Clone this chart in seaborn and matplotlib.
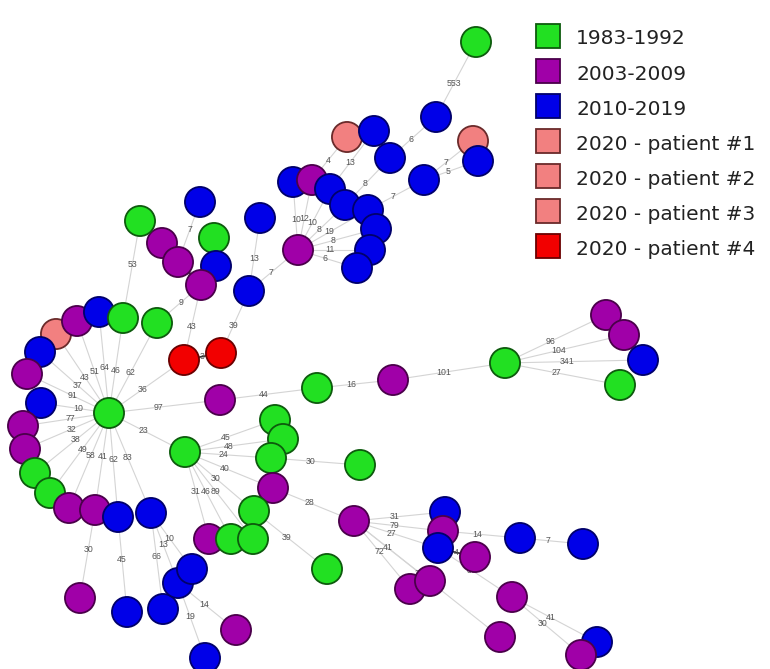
import matplotlib
matplotlib.use("Agg")
import matplotlib.pyplot as plt
import seaborn as sns
import pandas as pd
from matplotlib.lines import Line2D

# ---- data: node layout (minimum spanning tree), groups, edges ----
legend_labels = ["1983-1992", "2003-2009", "2010-2019", "2020 - patient #1",
                 "2020 - patient #2", "2020 - patient #3", "2020 - patient #4"]
G, PU, B, P1, P2, P3, R = legend_labels

node_x = [476, 436, 347, 374, 473, 478, 390, 424, 293, 312, 330, 345, 368, 376, 370, 357,
          298, 260, 249, 200, 214, 162, 178, 216, 201, 140, 157, 184, 221, 109,
          56, 77, 99, 123, 40, 27, 41, 220, 23, 25, 35, 50, 69, 95, 118, 151,
          185, 317, 393, 505, 606, 624, 643, 620, 275, 283, 271, 360, 273, 254,
          354, 209, 231, 253, 327, 445, 443, 438, 475, 520, 583, 410, 430, 512,
          500, 597, 581, 80, 127, 163, 178, 192, 236, 205]
node_y = [42, 117, 137, 131, 141, 161, 158, 180, 182, 180, 189, 205, 210, 229, 250, 268,
          250, 218, 291, 202, 238, 243, 262, 266, 285, 221, 323, 360, 353, 413,
          334, 321, 312, 318, 352, 374, 403, 400, 426, 449, 473, 493, 508, 510, 517, 513,
          452, 388, 380, 363, 315, 335, 360, 385, 420, 439, 458, 465, 488, 511,
          521, 539, 539, 539, 569, 512, 531, 548, 557, 538, 544, 589, 581, 597,
          637, 642, 655, 598, 612, 609, 583, 569, 630, 658]
node_group = [G, B, P1, B, P2, B, B, B, B, PU, B, B, B, B, B, B,
              PU, B, B, B, G, PU, PU, B, PU, G, G, R, R, G,
              P3, PU, B, G, B, PU, B, PU, PU, PU, G, G, PU, PU, B, B,
              G, G, PU, G, PU, PU, B, G, G, G, G, G, PU, G,
              PU, PU, G, G, G, B, PU, B, PU, B, B, PU, PU, PU,
              PU, B, PU, PU, B, B, B, B, PU, B]

edge_src = [1, 6, 11, 12, 7, 7, 9, 10,
            16, 16, 16, 16, 16, 16, 16, 16,
            18, 18, 28, 27, 27,
            24, 24, 19, 24, 24, 24, 25,
            29, 29, 29, 29, 29, 29, 29, 29, 29, 29, 29,
            29, 29, 29, 29, 29, 29, 29, 29,
            43, 44, 45, 45, 45, 80, 80,
            46, 46, 46, 46, 46, 46, 46, 46, 56, 58, 59,
            37, 47, 48, 49, 49, 49, 49,
            60, 60, 60, 60, 60, 60, 67, 66, 69, 67, 73, 73]
edge_dst = [0, 1, 6, 7, 5, 4, 2, 3,
            8, 9, 10, 11, 12, 13, 14, 15,
            16, 17, 18, 28, 24,
            21, 22, 22, 20, 23, 26, 33,
            36, 35, 34, 30, 31, 32, 33, 26, 27, 37, 46,
            38, 39, 40, 41, 42, 43, 44, 45,
            77, 78, 79, 80, 81, 82, 83,
            54, 55, 56, 58, 59, 61, 62, 63, 57, 60, 64,
            47, 48, 49, 50, 51, 52, 53,
            65, 66, 67, 71, 72, 74, 68, 69, 70, 73, 76, 75]
edge_label = ["553", "6", "8", "7", "5", "7", "4", "13",
              "10", "12", "10", "8", "19", "8", "11", "6",
              "7", "13", "39", "3", "43",
              "18", "8", "7", "61", "", "9", "53",
              "10", "91", "37", "43", "51", "64", "46", "62", "36", "97", "23",
              "77", "32", "38", "49", "58", "41", "62", "83",
              "30", "45", "66", "13", "10", "14", "19",
              "45", "48", "24", "40", "30", "31", "46", "89", "30", "28", "39",
              "44", "16", "101", "96", "104", "341", "27",
              "31", "79", "27", "72", "41", "33", "4", "14", "7", "37", "30", "41"]

palette = {G: "#22e022", PU: "#a000a8", B: "#0000e8",
           P1: "#f28080", P2: "#f28080", P3: "#f28080", R: "#f20000"}
outline = {G: "#0d5a0d", PU: "#4a004a", B: "#00006a",
           P1: "#6a2a2a", P2: "#6a2a2a", P3: "#6a2a2a", R: "#6a0000"}

nodes = pd.DataFrame({"x": node_x, "y": node_y, "group": node_group})

sns.set_theme(style="white")
plt.rcParams["font.family"] = ["DejaVu Sans"]

fig = plt.figure(figsize=(7.7, 6.69), dpi=100)
ax = fig.add_axes([0, 0, 1, 1])

# edges and their weights
for s, d, lab in zip(edge_src, edge_dst, edge_label):
    x0, y0, x1, y1 = node_x[s], node_y[s], node_x[d], node_y[d]
    length = ((x1 - x0) ** 2 + (y1 - y0) ** 2) ** 0.5
    short = length < 45
    ax.plot([x0, x1], [y0, y1], color="#333333" if short else "#d4d4d4",
            lw=1.2 if short else 0.8, zorder=1)
    if lab:
        t = 0.5 if short else 0.45
        ax.text(x0 + t * (x1 - x0), y0 + t * (y1 - y0), lab, fontsize=6.3,
                color="#555555", ha="center", va="center", zorder=2,
                family=["Liberation Sans", "DejaVu Sans"])

sns.scatterplot(data=nodes, x="x", y="y", hue="group", palette=palette,
                s=470, linewidth=1.3, legend=False, ax=ax, zorder=3)
ax.collections[-1].set_edgecolor([outline[g] for g in node_group])
ax.set_xlabel("")
ax.set_ylabel("")
ax.set_xlim(0, 770)
ax.set_ylim(669, 0)
ax.axis("off")

handles = [Line2D([], [], marker="s", linestyle="None", markersize=17,
                  markerfacecolor=palette[g], markeredgecolor=outline[g],
                  markeredgewidth=1.3) for g in legend_labels]
leg = ax.legend(handles, legend_labels, loc="upper left",
                bbox_to_anchor=(536 / 770, 1 - 27 / 669), frameon=False,
                fontsize=14.5, handlelength=1.15, handleheight=1.25,
                handletextpad=0.85, labelspacing=0.68, borderpad=0,
                borderaxespad=0)
for txt in leg.get_texts():
    txt.set_color("#222222")

fig.savefig("out.png", dpi=100)
